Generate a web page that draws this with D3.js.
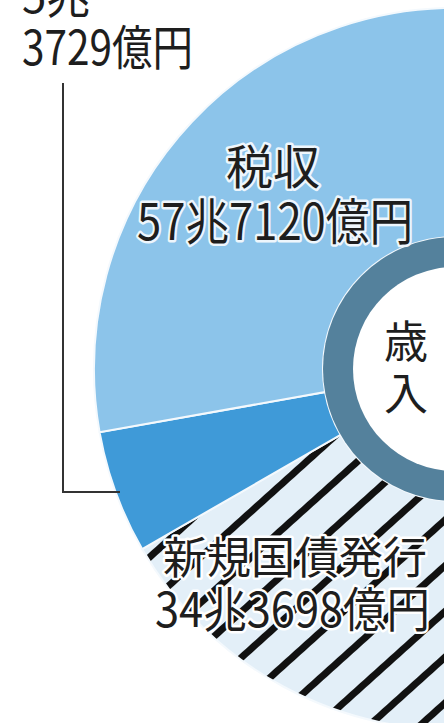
<!DOCTYPE html>
<html>
<head>
<meta charset="utf-8">
<script src="https://cdn.jsdelivr.net/npm/d3@7"></script>
<style>
  html, body { margin: 0; padding: 0; background: #fff; overflow: hidden; }
  svg { display: block; }
  text { font-family: "Noto Sans CJK JP", "Noto Sans", sans-serif; fill: #1e1e1e; }
</style>
</head>
<body>
<script>
// FY2017 general account revenue (units: 億円)
const categories = ["新規国債発行", "その他収入", "税収"];
const values = [343698, 53729, 577120];
const colors = ["#e3eff8", "#3f9ad8", "#8cc4ea"];

const W = 444, H = 723;
const cx = 455, cy = 369;
const rOuter = 361, rRing = 132, rHole = 102;

// 343698 -> "34兆3698億円"
const fmt = v => Math.floor(v / 10000) + "兆" + (v % 10000) + "億円";

const svg = d3.select("body").append("svg")
  .attr("width", W).attr("height", H);

// diagonal hatching for the bond slice
const defs = svg.append("defs");
const pat = defs.append("pattern")
  .attr("id", "hatch")
  .attr("patternUnits", "userSpaceOnUse")
  .attr("width", 34).attr("height", 10)
  .attr("patternTransform", "rotate(48)");
pat.append("rect").attr("width", 34).attr("height", 10).attr("fill", colors[0]);
pat.append("rect").attr("x", 0).attr("width", 7).attr("height", 10).attr("fill", "#111");

const color = d3.scaleOrdinal().domain(categories).range(colors);

// place the small slice on the left, just below horizontal
const deg = Math.PI / 180;
const total = d3.sum(values);
const otherCenter = 250 * deg;
const start = otherCenter - (values[1] / total) * Math.PI - (values[0] / total) * 2 * Math.PI;

const pie = d3.pie().sort(null).value(d => d.v)
  .startAngle(start).endAngle(start + 2 * Math.PI);
const rows = categories.map((c, i) => ({ c, v: values[i] }));
const arcs = pie(rows);

const arc = d3.arc().innerRadius(rRing).outerRadius(rOuter);

const g = svg.append("g").attr("transform", `translate(${cx},${cy})`);

g.selectAll("path.slice").data(arcs).join("path")
  .attr("class", "slice")
  .attr("d", arc)
  .attr("fill", d => d.index === 0 ? "url(#hatch)" : color(d.data.c))
  .attr("stroke", "#f4f9fd")
  .attr("stroke-width", 2);

// inner ring and hole
g.append("circle").attr("r", rRing).attr("fill", "#54819c");
g.append("circle").attr("r", rHole).attr("fill", "#fff");

// centre caption, set vertically
svg.append("text").attr("x", 406).attr("y", 339)
  .attr("text-anchor", "middle").attr("dominant-baseline", "central")
  .attr("font-size", 44).text("歳");
svg.append("text").attr("x", 406).attr("y", 391)
  .attr("text-anchor", "middle").attr("dominant-baseline", "central")
  .attr("font-size", 44).text("入");

// haloed label helper
function label(x, y, str, size, len, anchor, halo) {
  const t = svg.append("text")
    .attr("x", x).attr("y", y)
    .attr("text-anchor", anchor)
    .attr("font-size", size)
    .text(str);
  if (len) t.attr("textLength", len).attr("lengthAdjust", "spacingAndGlyphs");
  if (halo) t.attr("stroke", halo).attr("stroke-width", 5)
    .attr("stroke-linejoin", "round").attr("paint-order", "stroke");
  return t;
}

// tax
label(273, 184, categories[2], 47, null, "middle", "#eef6fc");
label(275, 240, fmt(values[2]), 50, 276, "middle", "#eef6fc");

// new government bonds
label(295, 574, categories[0], 44, 264, "middle", "#fff");
label(292.5, 627, fmt(values[0]), 48, 275, "middle", "#fff");

// other revenue, placed outside with a leader line
const otherTxt = fmt(values[1]);
const cut = otherTxt.indexOf("兆") + 1;
label(22, 13, otherTxt.slice(0, cut), 46, 68, "start", null);
label(22, 65, otherTxt.slice(cut), 48, 171, "start", null);

svg.append("path")
  .attr("d", "M63,83 V492 H120")
  .attr("fill", "none")
  .attr("stroke", "#333")
  .attr("stroke-width", 2);
</script>
</body>
</html>
